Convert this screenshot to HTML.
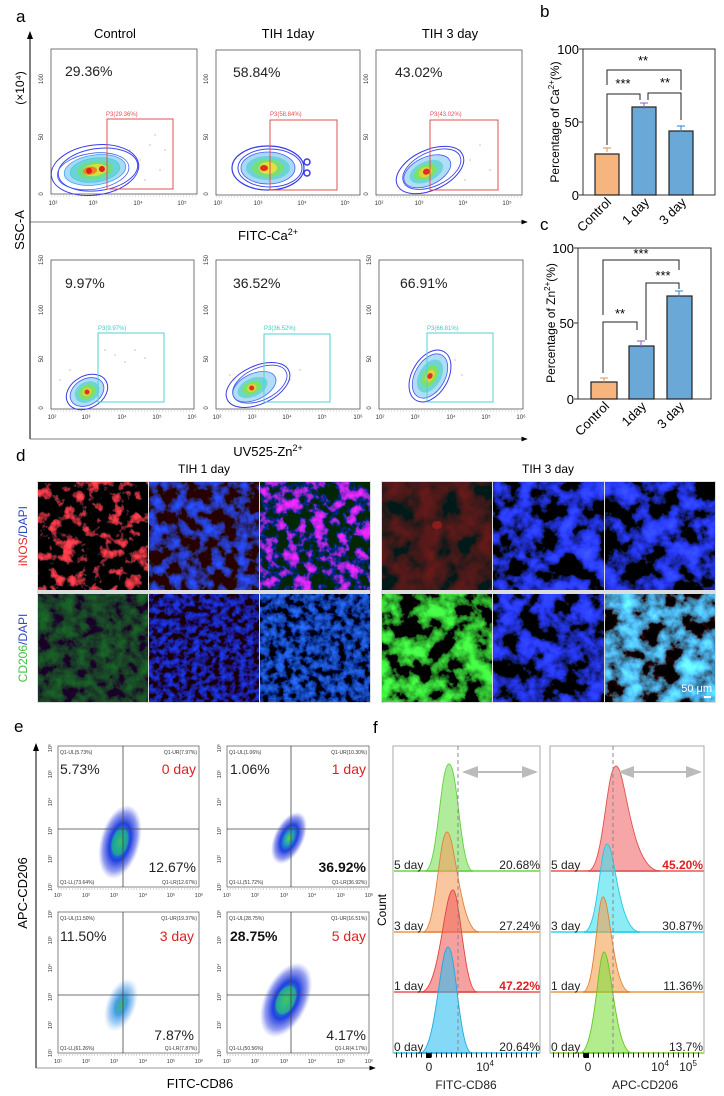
<!DOCTYPE html>
<html><head><meta charset="utf-8">
<style>
html,body{margin:0;padding:0;background:#fff;}
svg{display:block;font-family:"Liberation Sans",Arial,sans-serif;}
</style></head>
<body>
<svg width="724" height="1096" viewBox="0 0 724 1096" xmlns="http://www.w3.org/2000/svg">
<defs>
<marker id="ar" markerWidth="8" markerHeight="8" refX="7" refY="4" orient="auto"><path d="M0,1 L8,4 L0,7 z" fill="#000"/></marker>
<marker id="ga" markerWidth="8" markerHeight="8" refX="7" refY="4" orient="auto"><path d="M0,1 L8,4 L0,7 z" fill="#bbb"/></marker>
<marker id="gb" markerWidth="8" markerHeight="8" refX="1" refY="4" orient="auto"><path d="M8,1 L0,4 L8,7 z" fill="#bbb"/></marker>
<radialGradient id="sc"><stop offset="0" stop-color="#60d040"/><stop offset="0.25" stop-color="#20a0c0"/><stop offset="0.5" stop-color="#2040e0"/><stop offset="0.8" stop-color="#3040e0" stop-opacity="0.5"/><stop offset="1" stop-color="#6070f0" stop-opacity="0"/></radialGradient>
<radialGradient id="sc2"><stop offset="0" stop-color="#40b080"/><stop offset="0.35" stop-color="#40a0e0"/><stop offset="0.7" stop-color="#70b0f0" stop-opacity="0.6"/><stop offset="1" stop-color="#a0c8f0" stop-opacity="0"/></radialGradient>
<filter id="fR" x="0" y="0" width="1" height="1"><feTurbulence type="fractalNoise" baseFrequency="0.08" numOctaves="4" seed="3"/><feColorMatrix type="matrix" values="5 0 0 0 -2.65  0.2 0 0 0 -0.1  0.3 0 0 0 -0.15  0 0 0 0 1"/></filter>
<filter id="fB1" x="0" y="0" width="1" height="1"><feTurbulence type="fractalNoise" baseFrequency="0.08" numOctaves="4" seed="3"/><feColorMatrix type="matrix" values="0 0 0 0 0.02  0.2 0 0 0 -0.08  3 0 0 0 -1.3  0 0 0 0 1"/></filter>
<filter id="fM1" x="0" y="0" width="1" height="1"><feTurbulence type="fractalNoise" baseFrequency="0.08" numOctaves="4" seed="3"/><feColorMatrix type="matrix" values="3.6 0 0 0 -1.85  0 0 0 0 0.02  3.4 0 0 0 -1.45  0 0 0 0 1"/></filter>
<filter id="fR3" x="0" y="0" width="1" height="1"><feTurbulence type="fractalNoise" baseFrequency="0.05" numOctaves="3" seed="9"/><feColorMatrix type="matrix" values="0.3 0 0 0 -0.1  0 0 0 0 0.01  0 0 0 0 0.01  0 0 0 0 1"/></filter>
<filter id="fB3" x="0" y="0" width="1" height="1"><feTurbulence type="fractalNoise" baseFrequency="0.05" numOctaves="4" seed="7"/><feColorMatrix type="matrix" values="0.1 0 0 0 -0.04  0.2 0 0 0 -0.08  5 0 0 0 -2.1  0 0 0 0 1"/></filter>
<filter id="fG1" x="0" y="0" width="1" height="1"><feTurbulence type="fractalNoise" baseFrequency="0.08" numOctaves="4" seed="5"/><feColorMatrix type="matrix" values="0 0 0 0 0.01  0.28 0 0 0 -0.09  0 0 0 0 0.02  0 0 0 0 1"/></filter>
<filter id="fBd" x="0" y="0" width="1" height="1"><feTurbulence type="fractalNoise" baseFrequency="0.15" numOctaves="3" seed="11"/><feColorMatrix type="matrix" values="0 0 0 0 0.01  0.1 0 0 0 -0.04  2.0 0 0 0 -0.75  0 0 0 0 1"/></filter>
<filter id="fBd2" x="0" y="0" width="1" height="1"><feTurbulence type="fractalNoise" baseFrequency="0.13" numOctaves="3" seed="12"/><feColorMatrix type="matrix" values="0.05 0 0 0 -0.02  0.35 0 0 0 -0.13  2.2 0 0 0 -0.75  0 0 0 0 1"/></filter>
<filter id="fG3" x="0" y="0" width="1" height="1"><feTurbulence type="fractalNoise" baseFrequency="0.05" numOctaves="4" seed="7"/><feColorMatrix type="matrix" values="0.2 0 0 0 -0.08  3.6 0 0 0 -1.5  0.2 0 0 0 -0.08  0 0 0 0 1"/></filter>
<filter id="fC3" x="0" y="0" width="1" height="1"><feTurbulence type="fractalNoise" baseFrequency="0.05" numOctaves="4" seed="7"/><feColorMatrix type="matrix" values="0.3 0 0 0 -0.1  2.4 0 0 0 -0.95  4.4 0 0 0 -1.75  0 0 0 0 1"/></filter>
</defs>

<!-- ============ Panel a ============ -->
<text x="16" y="22" font-size="17">a</text>
<text x="115" y="38" font-size="13" text-anchor="middle">Control</text>
<text x="288" y="38" font-size="13" text-anchor="middle">TIH 1day</text>
<text x="450" y="38" font-size="13" text-anchor="middle">TIH 3 day</text>
<line x1="30" y1="439" x2="30" y2="32" stroke="#000" stroke-width="1" marker-end="url(#ar)"/>
<line x1="30" y1="222" x2="527" y2="222" stroke="#555" stroke-width="0.8" marker-end="url(#ar)"/>
<line x1="30" y1="439" x2="527" y2="439" stroke="#555" stroke-width="0.8" marker-end="url(#ar)"/>
<text transform="translate(24,88) rotate(-90)" font-size="12" text-anchor="middle">(×10⁴)</text>
<text transform="translate(24,230) rotate(-90)" font-size="13" text-anchor="middle">SSC-A</text>
<text x="268" y="240" font-size="13" text-anchor="middle">FITC-Ca<tspan font-size="9" dy="-5">2+</tspan></text>
<text x="268" y="456" font-size="13" text-anchor="middle">UV525-Zn<tspan font-size="9" dy="-5">2+</tspan></text>
<g fill="none" stroke="#555" stroke-width="0.8">
<rect x="51" y="49" width="146" height="145"/>
<rect x="216" y="50" width="144" height="145"/>
<rect x="376" y="50" width="146" height="145"/>
<rect x="51" y="260" width="143" height="149"/>
<rect x="216" y="260" width="144" height="149"/>
<rect x="379" y="260" width="144" height="149"/>
</g>
<g font-size="6" fill="#333" text-anchor="middle">
<text x="53" y="205">10²</text><text x="93" y="205">10³</text><text x="138" y="205">10⁴</text><text x="182" y="205">10⁵</text>
<text x="218" y="205">10²</text><text x="258" y="205">10³</text><text x="302" y="205">10⁴</text><text x="345" y="205">10⁵</text>
<text x="379" y="205">10²</text><text x="419" y="205">10³</text><text x="463" y="205">10⁴</text><text x="507" y="205">10⁵</text>
<text x="52" y="419">10²</text><text x="86" y="419">10³</text><text x="122" y="419">10⁴</text><text x="157" y="419">10⁵</text><text x="192" y="419">10⁶</text>
<text x="217" y="419">10²</text><text x="252" y="419">10³</text><text x="287" y="419">10⁴</text><text x="322" y="419">10⁵</text><text x="358" y="419">10⁶</text>
<text x="380" y="419">10²</text><text x="415" y="419">10³</text><text x="451" y="419">10⁴</text><text x="486" y="419">10⁵</text><text x="521" y="419">10⁶</text>
<text transform="translate(43,194) rotate(-90)">0</text><text transform="translate(43,137) rotate(-90)">50</text><text transform="translate(43,79) rotate(-90)">100</text>
<text transform="translate(208,194) rotate(-90)">0</text><text transform="translate(208,137) rotate(-90)">50</text><text transform="translate(208,79) rotate(-90)">100</text>
<text transform="translate(368,194) rotate(-90)">0</text><text transform="translate(368,137) rotate(-90)">50</text><text transform="translate(368,79) rotate(-90)">100</text>
<text transform="translate(43,408) rotate(-90)">0</text><text transform="translate(43,359) rotate(-90)">50</text><text transform="translate(43,310) rotate(-90)">100</text><text transform="translate(43,260) rotate(-90)">150</text>
<text transform="translate(208,408) rotate(-90)">0</text><text transform="translate(208,359) rotate(-90)">50</text><text transform="translate(208,310) rotate(-90)">100</text><text transform="translate(208,260) rotate(-90)">150</text>
<text transform="translate(371,408) rotate(-90)">0</text><text transform="translate(371,359) rotate(-90)">50</text><text transform="translate(371,310) rotate(-90)">100</text><text transform="translate(371,260) rotate(-90)">150</text>
</g>
<g stroke="#555" stroke-width="0.6" stroke-dasharray="0.6,2.4">
<line x1="51" y1="196" x2="197" y2="196"/><line x1="216" y1="197" x2="360" y2="197"/><line x1="376" y1="197" x2="522" y2="197"/>
<line x1="51" y1="411" x2="194" y2="411"/><line x1="216" y1="411" x2="360" y2="411"/><line x1="379" y1="411" x2="523" y2="411"/>
</g>
<g font-size="14" fill="#222">
<text x="65" y="76">29.36%</text><text x="233" y="77">58.84%</text><text x="395" y="77">43.02%</text>
<text x="65" y="288">9.97%</text><text x="233" y="288">36.52%</text><text x="400" y="288">66.91%</text>
</g>

<g transform="translate(95,170) rotate(-8)">
<ellipse rx="44" ry="25" fill="none" stroke="#3a3ae8" stroke-width="1"/>
<ellipse rx="40" ry="21" cx="3" fill="none" stroke="#3a48ee" stroke-width="1"/>
<ellipse rx="36" ry="18" cx="-2" cy="1" fill="none" stroke="#4060f0" stroke-width="0.8"/>
<ellipse rx="31" ry="15" fill="#40a8f0" fill-opacity="0.45" stroke="#40a0f0" stroke-width="0.8"/>
<ellipse rx="25" ry="12" fill="#40d0c0" fill-opacity="0.6" stroke="#40d0e0" stroke-width="0.7"/>
<ellipse rx="18" ry="9" fill="#70e070" fill-opacity="0.8"/>
<ellipse rx="12" ry="6" fill="#d0e040"/>
<ellipse rx="7" ry="4" cx="-5" fill="#f08020"/><ellipse rx="3" ry="3" cx="-6" fill="#e02020"/><ellipse rx="3" ry="3" cx="7" fill="#e02020"/>
</g>
<g transform="translate(268,168)">
<ellipse rx="36" ry="22" fill="none" stroke="#3a3ae8" stroke-width="1.2"/>
<ellipse rx="32" ry="19" cx="2" fill="none" stroke="#3a48ee" stroke-width="1"/>
<ellipse rx="27" ry="16" fill="#40a8f0" fill-opacity="0.45" stroke="#4060f0" stroke-width="0.8"/>
<ellipse rx="22" ry="12" fill="#40d0c0" fill-opacity="0.6"/>
<ellipse rx="16" ry="9" fill="#80e060" fill-opacity="0.8"/>
<ellipse rx="9" ry="6" fill="#e0e040"/><ellipse rx="4" ry="3" cx="-4" fill="#e03020"/>
</g>
<circle cx="307" cy="162" r="3" fill="none" stroke="#3a3ae8" stroke-width="1.5"/><circle cx="307" cy="173" r="3" fill="none" stroke="#3a3ae8" stroke-width="1.5"/>
<g transform="translate(430,170) rotate(-25)">
<ellipse rx="36" ry="20" fill="none" stroke="#3a3ae8" stroke-width="1"/>
<ellipse rx="31" ry="17" cx="2" fill="none" stroke="#3a48ee" stroke-width="0.9"/>
<ellipse rx="25" ry="14" cx="-3" fill="#40a8f0" fill-opacity="0.4" stroke="#4060f0" stroke-width="0.8"/>
<ellipse rx="18" ry="10" cx="-4" fill="#40d0c0" fill-opacity="0.6"/>
<ellipse rx="12" ry="7" cx="-5" fill="#80e060"/>
<ellipse rx="7" ry="5" cx="-5" fill="#e0d040"/><ellipse rx="3.5" ry="3" cx="-4" fill="#e03020"/>
</g>
<g transform="translate(87,392) rotate(-30)">
<ellipse rx="22" ry="16" fill="none" stroke="#3a3ae8" stroke-width="1"/>
<ellipse rx="18" ry="13" fill="#40a8f0" fill-opacity="0.4" stroke="#4060f0" stroke-width="0.8"/>
<ellipse rx="13" ry="10" fill="#40d0c0" fill-opacity="0.6"/>
<ellipse rx="9" ry="7" fill="#80e060"/><ellipse rx="5" ry="4" fill="#e0d040"/><ellipse rx="2.5" ry="2.5" fill="#e03020"/>
</g>
<g transform="translate(258,385) rotate(-25)">
<ellipse rx="34" ry="19" fill="none" stroke="#3a3ae8" stroke-width="1"/>
<ellipse rx="29" ry="16" cx="2" fill="none" stroke="#4050ee" stroke-width="0.9"/>
<ellipse rx="23" ry="13" cx="-4" fill="#40a8f0" fill-opacity="0.4" stroke="#4070f0" stroke-width="0.8"/>
<ellipse rx="16" ry="9" cx="-6" fill="#40d0c0" fill-opacity="0.6"/>
<ellipse rx="10" ry="6" cx="-7" fill="#80e060"/><ellipse rx="5" ry="4" cx="-7" fill="#e0d040"/><ellipse rx="2.5" ry="2.5" cx="-7" fill="#e03020"/>
</g>
<g transform="translate(430,376) rotate(-60)">
<ellipse rx="28" ry="18" fill="none" stroke="#3a3ae8" stroke-width="1"/>
<ellipse rx="24" ry="15" fill="#40a8f0" fill-opacity="0.4" stroke="#4060f0" stroke-width="0.8"/>
<ellipse rx="18" ry="11" fill="#40d0c0" fill-opacity="0.6"/>
<ellipse rx="12" ry="7" fill="#80e060"/><ellipse rx="7" ry="4" fill="#e0d040"/><ellipse rx="3" ry="2.5" fill="#e03020"/>
</g>
<g fill="#b8a070">
<circle cx="130" cy="150" r="0.6"/><circle cx="140" cy="160" r="0.6"/><circle cx="150" cy="145" r="0.6"/><circle cx="160" cy="170" r="0.6"/><circle cx="145" cy="180" r="0.6"/><circle cx="165" cy="150" r="0.6"/><circle cx="120" cy="185" r="0.6"/><circle cx="155" cy="135" r="0.6"/>
<circle cx="460" cy="150" r="0.6"/><circle cx="470" cy="160" r="0.6"/><circle cx="480" cy="145" r="0.6"/><circle cx="490" cy="170" r="0.6"/><circle cx="465" cy="180" r="0.6"/><circle cx="405" cy="185" r="0.6"/>
<circle cx="105" cy="350" r="0.6"/><circle cx="115" cy="355" r="0.6"/><circle cx="125" cy="362" r="0.6"/><circle cx="135" cy="350" r="0.6"/><circle cx="145" cy="358" r="0.6"/><circle cx="70" cy="370" r="0.6"/><circle cx="60" cy="380" r="0.6"/>
<circle cx="290" cy="380" r="0.6"/><circle cx="300" cy="370" r="0.6"/><circle cx="230" cy="375" r="0.6"/><circle cx="455" cy="360" r="0.6"/><circle cx="462" cy="375" r="0.6"/>
</g>
<g fill="none" stroke="#e05050" stroke-width="1">
<rect x="107" y="119" width="66" height="70"/><rect x="270" y="120" width="67" height="70"/><rect x="430" y="120" width="68" height="70"/>
</g>
<g font-size="6" fill="#e05050"><text x="106" y="116">P3(29.36%)</text><text x="270" y="116">P3(58.84%)</text><text x="430" y="116">P3(43.02%)</text></g>
<g fill="none" stroke="#50d0d0" stroke-width="1">
<rect x="98" y="333" width="66" height="69"/><rect x="264" y="334" width="66" height="68"/><rect x="427" y="333" width="66" height="69"/>
</g>
<g font-size="6" fill="#40c8c8"><text x="98" y="330">P3(9.97%)</text><text x="264" y="330">P3(36.52%)</text><text x="427" y="330">P3(66.81%)</text></g>

<!-- ============ Panel b ============ -->
<text x="540" y="17" font-size="17">b</text>
<rect x="583" y="49" width="132" height="146" fill="none" stroke="#333" stroke-width="1"/>
<g font-size="13" text-anchor="end"><text x="579" y="54">100</text><text x="579" y="127">50</text><text x="579" y="200">0</text></g>
<g stroke="#333"><line x1="579" y1="49" x2="583" y2="49"/><line x1="579" y1="122" x2="583" y2="122"/><line x1="579" y1="195" x2="583" y2="195"/></g>
<text transform="translate(559,122) rotate(-90)" font-size="12" text-anchor="middle">Percentage of Ca<tspan font-size="8" dy="-5">2+</tspan><tspan dy="5">(%)</tspan></text>
<rect x="595" y="154" width="24" height="41" fill="#f6b57f" stroke="#222" stroke-width="1.2"/>
<rect x="632" y="107" width="24" height="88" fill="#6aa8d8" stroke="#222" stroke-width="1.2"/>
<rect x="669" y="131" width="24" height="64" fill="#6aa8d8" stroke="#222" stroke-width="1.2"/>
<g stroke="#222" fill="none">
<path d="M607,148 v4 M603,148 h8" stroke="#e09050"/><path d="M644,103 v6 M640,103 h8" stroke="#8060c0"/><path d="M681,126 v6 M677,126 h8" stroke="#3080d0"/>
<path d="M607,145 V94 H640 V100"/><path d="M648,100 V93 H681 V120"/><path d="M607,85 V70 H681 V90"/>
</g>
<g font-size="13" text-anchor="middle"><text x="623" y="88">***</text><text x="665" y="87">**</text><text x="643" y="65">**</text></g>
<g font-size="13" text-anchor="end">
<text transform="translate(612,203) rotate(-45)">Control</text>
<text transform="translate(650,203) rotate(-45)">1 day</text>
<text transform="translate(687,203) rotate(-45)">3 day</text>
</g>

<!-- ============ Panel c ============ -->
<text x="540" y="230" font-size="17">c</text>
<rect x="578" y="248" width="133" height="151" fill="none" stroke="#333" stroke-width="1"/>
<g font-size="13" text-anchor="end"><text x="574" y="253">100</text><text x="574" y="328">50</text><text x="574" y="404">0</text></g>
<g stroke="#333"><line x1="574" y1="248" x2="578" y2="248"/><line x1="574" y1="323" x2="578" y2="323"/><line x1="574" y1="399" x2="578" y2="399"/></g>
<text transform="translate(555,323) rotate(-90)" font-size="12" text-anchor="middle">Percentage of Zn<tspan font-size="8" dy="-5">2+</tspan><tspan dy="5">(%)</tspan></text>
<rect x="591" y="382" width="26" height="17" fill="#f6b57f" stroke="#222" stroke-width="1.2"/>
<rect x="629" y="346" width="25" height="53" fill="#6aa8d8" stroke="#222" stroke-width="1.2"/>
<rect x="667" y="296" width="25" height="103" fill="#6aa8d8" stroke="#222" stroke-width="1.2"/>
<g stroke="#222" fill="none">
<path d="M604,378 v4 M600,378 h8" stroke="#e09050"/><path d="M641,341 v7 M637,341 h8" stroke="#8060c0"/><path d="M679,291 v6 M675,291 h8" stroke="#3080d0"/>
<path d="M603,373 V322 H637 V330"/><path d="M646,340 V283 H679 V289"/><path d="M603,315 V260 H679 V270"/>
</g>
<g font-size="13" text-anchor="middle"><text x="620" y="318">**</text><text x="663" y="280">***</text><text x="641" y="258">***</text></g>
<g font-size="13" text-anchor="end">
<text transform="translate(610,407) rotate(-45)">Control</text>
<text transform="translate(647,407) rotate(-45)">1day</text>
<text transform="translate(685,407) rotate(-45)">3 day</text>
</g>

<!-- ============ Panel d ============ -->
<text x="16" y="461" font-size="17">d</text>
<text x="204" y="473" font-size="12" text-anchor="middle">TIH 1 day</text>
<text x="548" y="473" font-size="12" text-anchor="middle">TIH 3 day</text>
<text transform="translate(27,536) rotate(-90)" font-size="12" text-anchor="middle"><tspan fill="#e03030">iNOS</tspan><tspan fill="#3048c0">/DAPI</tspan></text>
<text transform="translate(27,648) rotate(-90)" font-size="12" text-anchor="middle"><tspan fill="#40c040">CD206</tspan><tspan fill="#3048c0">/DAPI</tspan></text>
<rect x="37" y="481" width="334" height="222" fill="#ddd"/>
<rect x="381" y="481" width="335" height="222" fill="#ddd"/>
<rect x="38" y="482" width="110" height="108" fill="#000" filter="url(#fR)"/>
<rect x="149" y="482" width="110" height="108" fill="#000" filter="url(#fB1)"/>
<rect x="260" y="482" width="110" height="108" fill="#000" filter="url(#fM1)"/>
<rect x="382" y="482" width="110" height="108" fill="#000" filter="url(#fR3)"/>
<rect x="493" y="482" width="111" height="108" fill="#000" filter="url(#fB3)"/>
<rect x="605" y="482" width="110" height="108" fill="#000" filter="url(#fB3)"/>
<rect x="38" y="594" width="110" height="108" fill="#000" filter="url(#fG1)"/>
<rect x="149" y="594" width="110" height="108" fill="#000" filter="url(#fBd)"/>
<rect x="260" y="594" width="110" height="108" fill="#000" filter="url(#fBd2)"/>
<rect x="382" y="594" width="110" height="108" fill="#000" filter="url(#fG3)"/>
<rect x="493" y="594" width="111" height="108" fill="#000" filter="url(#fB3)"/>
<rect x="605" y="594" width="110" height="108" fill="#000" filter="url(#fC3)"/>
<ellipse cx="437" cy="525" rx="5" ry="4" fill="#b02020" opacity="0.6"/>
<text x="712" y="692" font-size="11" fill="#fff" text-anchor="end">50 μm</text>
<rect x="704" y="696" width="7" height="2" fill="#fff"/>

<!-- ============ Panel e ============ -->
<text x="14" y="732" font-size="17">e</text>
<line x1="36" y1="1068" x2="36" y2="744" stroke="#000" marker-end="url(#ar)"/>
<line x1="36" y1="1068" x2="375" y2="1068" stroke="#777" stroke-width="0.8" marker-end="url(#ar)"/>
<text transform="translate(27,893) rotate(-90)" font-size="13" text-anchor="middle">APC-CD206</text>
<text x="200" y="1088" font-size="13" text-anchor="middle">FITC-CD86</text>
<ellipse cx="120" cy="842" rx="20" ry="38" fill="url(#sc)" transform="rotate(15 120 842)"/>
<ellipse cx="120" cy="842" rx="8" ry="14" fill="#20b080" opacity="0.6" transform="rotate(15 120 842)"/>
<ellipse cx="289" cy="838" rx="15" ry="28" fill="url(#sc)" transform="rotate(25 289 838)"/>
<ellipse cx="121" cy="1005" rx="15" ry="28" fill="url(#sc2)" transform="rotate(20 121 1005)"/>
<ellipse cx="286" cy="1000" rx="22" ry="40" fill="url(#sc)" transform="rotate(25 286 1000)"/>
<ellipse cx="286" cy="1000" rx="9" ry="15" fill="#30c070" opacity="0.6" transform="rotate(25 286 1000)"/>
<g fill="none" stroke="#666" stroke-width="0.8">
<rect x="58" y="746" width="141" height="141"/><rect x="227" y="746" width="142" height="141"/>
<rect x="58" y="912" width="141" height="141"/><rect x="227" y="912" width="142" height="141"/>
</g>
<g stroke="#444" stroke-width="0.8">
<line x1="58" y1="829" x2="199" y2="829"/><line x1="123" y1="746" x2="123" y2="887"/>
<line x1="227" y1="829" x2="369" y2="829"/><line x1="291" y1="746" x2="291" y2="887"/>
<line x1="58" y1="995" x2="199" y2="995"/><line x1="123" y1="912" x2="123" y2="1053"/>
<line x1="227" y1="995" x2="369" y2="995"/><line x1="291" y1="912" x2="291" y2="1053"/>
</g>
<g stroke="#555" stroke-width="0.8" stroke-dasharray="0.6,2.2">
<line x1="58" y1="889" x2="199" y2="889"/><line x1="227" y1="889" x2="369" y2="889"/>
<line x1="58" y1="1055" x2="199" y2="1055"/><line x1="227" y1="1055" x2="369" y2="1055"/>
</g>
<g font-size="5.5" fill="#333" text-anchor="middle">
<text x="58" y="897">10¹</text><text x="86" y="897">10²</text><text x="114" y="897">10³</text><text x="143" y="897">10⁴</text><text x="171" y="897">10⁵</text><text x="199" y="897">10⁶</text>
<text x="227" y="897">10¹</text><text x="255" y="897">10²</text><text x="284" y="897">10³</text><text x="312" y="897">10⁴</text><text x="341" y="897">10⁵</text><text x="369" y="897">10⁶</text>
<text x="58" y="1063">10¹</text><text x="86" y="1063">10²</text><text x="114" y="1063">10³</text><text x="143" y="1063">10⁴</text><text x="171" y="1063">10⁵</text><text x="199" y="1063">10⁶</text>
<text x="227" y="1063">10¹</text><text x="255" y="1063">10²</text><text x="284" y="1063">10³</text><text x="312" y="1063">10⁴</text><text x="341" y="1063">10⁵</text><text x="369" y="1063">10⁶</text>
<text transform="translate(52,887) rotate(-90)">10¹</text><text transform="translate(52,859) rotate(-90)">10²</text><text transform="translate(52,831) rotate(-90)">10³</text><text transform="translate(52,802) rotate(-90)">10⁴</text><text transform="translate(52,774) rotate(-90)">10⁵</text><text transform="translate(52,748) rotate(-90)">10⁶</text>
<text transform="translate(221,887) rotate(-90)">10¹</text><text transform="translate(221,859) rotate(-90)">10²</text><text transform="translate(221,831) rotate(-90)">10³</text><text transform="translate(221,802) rotate(-90)">10⁴</text><text transform="translate(221,774) rotate(-90)">10⁵</text><text transform="translate(221,748) rotate(-90)">10⁶</text>
<text transform="translate(52,1053) rotate(-90)">10¹</text><text transform="translate(52,1025) rotate(-90)">10²</text><text transform="translate(52,997) rotate(-90)">10³</text><text transform="translate(52,968) rotate(-90)">10⁴</text><text transform="translate(52,940) rotate(-90)">10⁵</text><text transform="translate(52,914) rotate(-90)">10⁶</text>
<text transform="translate(221,1053) rotate(-90)">10¹</text><text transform="translate(221,1025) rotate(-90)">10²</text><text transform="translate(221,997) rotate(-90)">10³</text><text transform="translate(221,968) rotate(-90)">10⁴</text><text transform="translate(221,940) rotate(-90)">10⁵</text><text transform="translate(221,914) rotate(-90)">10⁶</text>
</g>
<g font-size="5" fill="#333">
<text x="60" y="754">Q1-UL(5.73%)</text><text x="197" y="754" text-anchor="end">Q1-UR(7.97%)</text>
<text x="60" y="884">Q1-LL(73.64%)</text><text x="197" y="884" text-anchor="end">Q1-LR(12.67%)</text>
<text x="229" y="754">Q1-UL(1.06%)</text><text x="367" y="754" text-anchor="end">Q1-UR(10.30%)</text>
<text x="229" y="884">Q1-LL(51.72%)</text><text x="367" y="884" text-anchor="end">Q1-LR(36.92%)</text>
<text x="60" y="920">Q1-UL(11.50%)</text><text x="197" y="920" text-anchor="end">Q1-UR(19.37%)</text>
<text x="60" y="1050">Q1-LL(61.26%)</text><text x="197" y="1050" text-anchor="end">Q1-LR(7.87%)</text>
<text x="229" y="920">Q1-UL(28.75%)</text><text x="367" y="920" text-anchor="end">Q1-UR(16.51%)</text>
<text x="229" y="1050">Q1-LL(50.56%)</text><text x="367" y="1050" text-anchor="end">Q1-LR(4.17%)</text>
</g>
<g font-size="14">
<text x="60" y="774" fill="#222">5.73%</text><text x="196" y="774" fill="#e02020" text-anchor="end">0 day</text>
<text x="196" y="872" fill="#222" text-anchor="end">12.67%</text>
<text x="230" y="774" fill="#222">1.06%</text><text x="366" y="774" fill="#e02020" text-anchor="end">1 day</text>
<text x="366" y="872" fill="#111" font-weight="bold" text-anchor="end">36.92%</text>
<text x="60" y="941" fill="#222">11.50%</text><text x="194" y="941" fill="#e02020" text-anchor="end">3 day</text>
<text x="194" y="1040" fill="#222" text-anchor="end">7.87%</text>
<text x="230" y="941" fill="#111" font-weight="bold">28.75%</text><text x="366" y="941" fill="#e02020" text-anchor="end">5 day</text>
<text x="366" y="1040" fill="#222" text-anchor="end">4.17%</text>
</g>

<!-- ============ Panel f ============ -->
<text x="373" y="733" font-size="17">f</text>
<rect x="393" y="746" width="147" height="307" fill="none" stroke="#aaa" stroke-width="1"/>
<rect x="550" y="746" width="154" height="307" fill="none" stroke="#aaa" stroke-width="1"/>
<g stroke-width="2">
<line x1="394" y1="871" x2="540" y2="871" stroke="#90e070"/><line x1="394" y1="932" x2="540" y2="932" stroke="#f0b070"/>
<line x1="394" y1="992" x2="540" y2="992" stroke="#f08080"/><line x1="394" y1="1053" x2="540" y2="1053" stroke="#60d0f0"/>
<line x1="551" y1="871" x2="704" y2="871" stroke="#f08080"/><line x1="551" y1="932" x2="704" y2="932" stroke="#60e0f0"/>
<line x1="551" y1="992" x2="704" y2="992" stroke="#f0b070"/><line x1="551" y1="1053" x2="704" y2="1053" stroke="#a0e060"/>
</g>
<g fill-opacity="0.6" stroke-width="0.9">
<path d="M425,871 C438,871 440,764 449,764 C458,764 460,871 473,871 Z" fill="#7be05a" stroke="#60d040"/>
<path d="M423,932 C436,932 439,832 447,832 C455,832 460,932 479,932 Z" fill="#f5a060" stroke="#e08040"/>
<path d="M421,992 C440,992 444,890 453,890 C460,890 464,992 477,992 Z" fill="#f06060" stroke="#e04040"/>
<path d="M420,1053 C436,1053 440,947 448,947 C456,947 459,1053 472,1053 Z" fill="#30c0f0" stroke="#20a8e0"/>
<path d="M588,871 C604,871 606,766 616,766 C626,766 630,871 660,871 Z" fill="#f06a6a" stroke="#e05050"/>
<path d="M584,932 C598,932 600,844 607,844 C615,844 618,932 640,932 Z" fill="#40e0f0" stroke="#20c8e0"/>
<path d="M583,992 C595,992 597,897 603,897 C610,897 613,992 630,992 Z" fill="#f5a050" stroke="#e08030"/>
<path d="M580,1053 C595,1053 598,952 604,952 C611,952 615,1053 632,1053 Z" fill="#80e040" stroke="#60c820"/>
</g>
<line x1="458" y1="746" x2="458" y2="1053" stroke="#888" stroke-dasharray="4,3"/>
<line x1="613" y1="746" x2="613" y2="1053" stroke="#888" stroke-dasharray="4,3"/>
<line x1="464" y1="772" x2="536" y2="772" stroke="#bbb" stroke-width="2" marker-end="url(#ga)" marker-start="url(#gb)"/>
<line x1="620" y1="772" x2="700" y2="772" stroke="#bbb" stroke-width="2" marker-end="url(#ga)" marker-start="url(#gb)"/>
<g font-size="12" fill="#222">
<text x="394" y="869">5 day</text><text x="394" y="930">3 day</text><text x="394" y="990">1 day</text><text x="394" y="1051">0 day</text>
<text x="540" y="869" text-anchor="end">20.68%</text><text x="540" y="930" text-anchor="end">27.24%</text>
<text x="540" y="990" text-anchor="end" fill="#e02020" font-weight="bold">47.22%</text><text x="540" y="1051" text-anchor="end">20.64%</text>
<text x="551" y="869">5 day</text><text x="551" y="930">3 day</text><text x="551" y="990">1 day</text><text x="551" y="1051">0 day</text>
<text x="703" y="869" text-anchor="end" fill="#e02020" font-weight="bold">45.20%</text><text x="703" y="930" text-anchor="end">30.87%</text>
<text x="703" y="990" text-anchor="end">11.36%</text><text x="703" y="1051" text-anchor="end">13.7%</text>
</g>
<text transform="translate(386,910) rotate(-90)" font-size="12" text-anchor="middle">Count</text>
<g stroke="#222" stroke-width="1">
<line x1="396" y1="1055" x2="538" y2="1055" stroke-dasharray="1,4" stroke-width="5"/>
<line x1="553" y1="1055" x2="702" y2="1055" stroke-dasharray="1,4" stroke-width="5"/>
</g>
<rect x="426" y="1053" width="5" height="5" fill="#000"/><rect x="584" y="1053" width="5" height="5" fill="#000"/>
<g font-size="12" text-anchor="middle" fill="#222">
<text x="429" y="1071">0</text><text x="485" y="1071">10<tspan font-size="8" dy="-5">4</tspan></text>
<text x="588" y="1071">0</text><text x="660" y="1071">10<tspan font-size="8" dy="-5">4</tspan></text><text x="688" y="1071">10<tspan font-size="8" dy="-5">5</tspan></text>
<text x="466" y="1089">FITC-CD86</text><text x="645" y="1089">APC-CD206</text>
</g>
</svg>
</body></html>
